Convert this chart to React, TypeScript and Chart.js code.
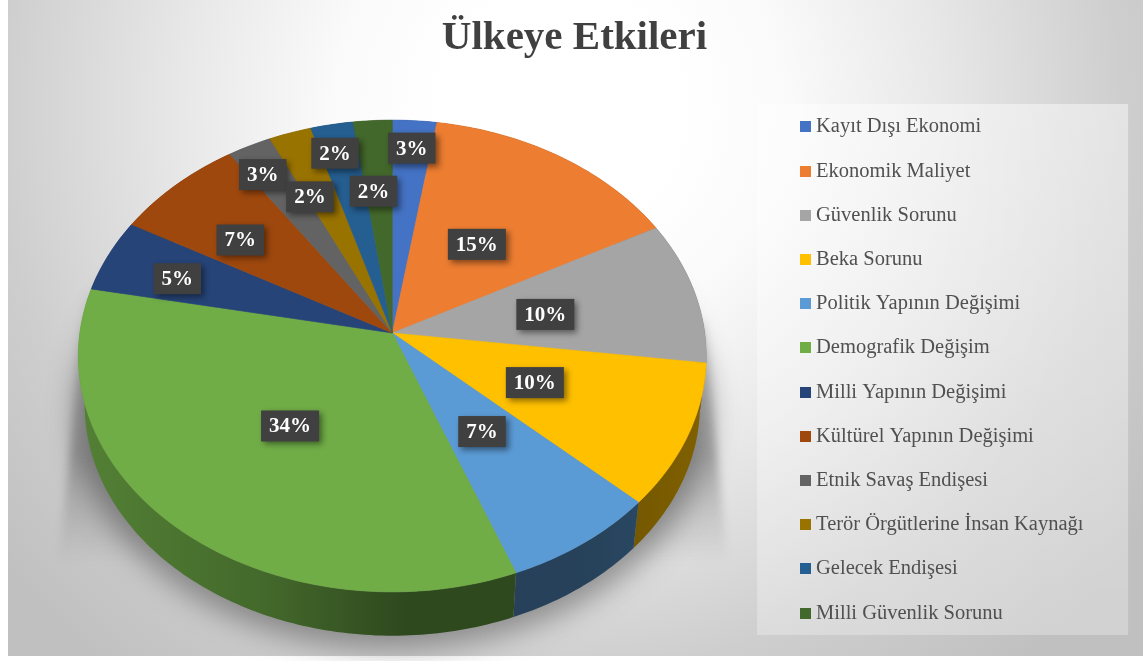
import React, { useEffect, useRef } from "react";
import { Chart, registerables } from "chart.js";

Chart.register(...registerables);

const titleText = "Ülkeye Etkileri";
const categories = [
  "Kayıt Dışı Ekonomi",
  "Ekonomik Maliyet",
  "Güvenlik Sorunu",
  "Beka Sorunu",
  "Politik Yapının Değişimi",
  "Demografik Değişim",
  "Milli Yapının Değişimi",
  "Kültürel Yapının Değişimi",
  "Etnik Savaş Endişesi",
  "Terör Örgütlerine İnsan Kaynağı",
  "Gelecek Endişesi",
  "Milli Güvenlik Sorunu",
];
const values = [2.5, 14.7, 9.8, 9.8, 7.3, 33.9, 5, 7.4, 2.5, 2.4, 2.4, 2.2];
const colors = [
  "#4472C4", "#ED7D31", "#A5A5A5", "#FFC000", "#5B9BD5", "#70AD47",
  "#264478", "#9E480E", "#636363", "#997300", "#255E91", "#43682B",
];
const labelRadii = [0.86, 0.484, 0.5, 0.493, 0.49, 0.496, 0.743, 0.654, 0.851, 0.678, 0.855, 0.648];
const labelAngleNudges = [0, 0, 0.02, 0, 0, -0.01, -0.025, -0.055, -0.03, -0.06, -0.02, -0.03];

const SERIF = '"Liberation Serif", serif';
const K = 0.0975;
const SCALE_X = 1.11;
const SCALE_Y = 0.83;
const DEPTH_SCALE = 0.98;
const DEPTH_Y = 49;
const APEX_SHIFT = -41.5;
const TITLE_SHIFT = 26;

function project(arc: any, r: number, angle: number) {
  const u = r * Math.cos(angle);
  const v = r * Math.sin(angle);
  const w = 1 - K * v;
  return {
    x: (SCALE_X * arc.outerRadius * u) / w,
    y: (SCALE_Y * arc.outerRadius * v) / w,
  };
}

function shade(hex: string, f: number) {
  const n = parseInt(hex.slice(1), 16);
  return `rgb(${((n >> 16) & 255) * f},${((n >> 8) & 255) * f},${(n & 255) * f})`;
}

function markerCanvas(color: string) {
  const c = document.createElement("canvas");
  c.width = 11;
  c.height = 11;
  const x = c.getContext("2d")!;
  x.fillStyle = color;
  x.fillRect(0, 0, 11, 11);
  return c;
}

const backdropPlugin = {
  id: "backdrop",
  afterLayout(chart: any) {
    if (chart.titleBlock) {
      chart.titleBlock.left += TITLE_SHIFT;
      chart.titleBlock.right += TITLE_SHIFT;
    }
  },
  beforeDraw(chart: any) {
    const { ctx, width, height } = chart;
    ctx.save();
    ctx.fillStyle = "#ffffff";
    ctx.fillRect(0, 0, width, height);
    const g = ctx.createRadialGradient(560, 110, 120, 560, 110, 720);
    g.addColorStop(0, "#ffffff");
    g.addColorStop(0.18, "#fafafa");
    g.addColorStop(0.43, "#e8e8e8");
    g.addColorStop(0.74, "#cecece");
    g.addColorStop(1, "#c0c0c0");
    ctx.fillStyle = g;
    ctx.fillRect(8, 0, width - 8, height - 5);
    const lg = chart.legend;
    const box = ctx.createLinearGradient(0, lg.top + 11, 0, lg.top + 542);
    box.addColorStop(0, "rgba(255,255,255,0.45)");
    box.addColorStop(1, "rgba(255,255,255,0.28)");
    ctx.fillStyle = box;
    ctx.fillRect(lg.left - 24, lg.top + 11, 371, 531);
    ctx.restore();
  },
};

const perspectivePie = {
  id: "perspectivePie",
  beforeDatasetsDraw(chart: any) {
    const { ctx } = chart;
    const meta = chart.getDatasetMeta(0);
    const first = meta.data[0];
    const cx = first.x;
    const cy = first.y + APEX_SHIFT;
    const R = first.outerRadius;

    const arcPts = (arc: any) => {
      const n = Math.max(8, Math.ceil((arc.endAngle - arc.startAngle) * 60));
      const pts = [];
      for (let i = 0; i <= n; i++) {
        const t = arc.startAngle + ((arc.endAngle - arc.startAngle) * i) / n;
        pts.push(project(arc, 1, t));
      }
      return pts;
    };

    ctx.save();
    // flaring shadow beside the pie
    const fan = ctx.createLinearGradient(0, cy - 40, 0, cy + 230);
    fan.addColorStop(0, "rgba(90,90,90,0.05)");
    fan.addColorStop(0.25, "rgba(90,90,90,0.25)");
    fan.addColorStop(0.6, "rgba(90,90,90,0.42)");
    fan.addColorStop(1, "rgba(90,90,90,0)");
    ctx.filter = "blur(4px)";
    ctx.fillStyle = fan;
    ctx.beginPath();
    ctx.moveTo(cx - R * 1.09, cy - 40);
    ctx.lineTo(cx - R * 1.185, cy + 230);
    ctx.lineTo(cx + R * 1.19, cy + 230);
    ctx.lineTo(cx + R * 1.11, cy - 10);
    ctx.closePath();
    ctx.fill();

    // soft ground shadow under the pie
    ctx.filter = "blur(14px)";
    ctx.fillStyle = "rgba(70,70,70,0.5)";
    ctx.beginPath();
    for (let i = 0; i <= 120; i++) {
      const p = project(first, 1, (i / 120) * Math.PI * 2);
      const x = cx + p.x * 1.01;
      const y = cy + DEPTH_Y + 8 + p.y;
      if (i === 0) ctx.moveTo(x, y);
      else ctx.lineTo(x, y);
    }
    ctx.closePath();
    ctx.fill();
    ctx.filter = "none";

    // side walls
    meta.data.forEach((arc: any, i: number) => {
      const color = colors[i];
      const g = ctx.createLinearGradient(cx - R * 1.1, 0, cx + R * 1.1, 0);
      g.addColorStop(0, shade(color, 0.74));
      g.addColorStop(0.3, shade(color, 0.6));
      g.addColorStop(0.52, shade(color, 0.42));
      g.addColorStop(0.8, shade(color, 0.42));
      g.addColorStop(1, shade(color, 0.5));
      const pts = arcPts(arc);
      ctx.fillStyle = g;
      ctx.beginPath();
      pts.forEach((p: any, j: number) => {
        const x = cx + p.x;
        const y = cy + p.y;
        if (j === 0) ctx.moveTo(x, y);
        else ctx.lineTo(x, y);
      });
      pts.slice().reverse().forEach((p: any) => {
        ctx.lineTo(cx + p.x * DEPTH_SCALE, cy + DEPTH_Y + p.y * DEPTH_SCALE);
      });
      ctx.closePath();
      ctx.fill();
    });

    // top faces
    meta.data.forEach((arc: any, i: number) => {
      ctx.fillStyle = colors[i];
      ctx.strokeStyle = colors[i];
      ctx.lineWidth = 0.6;
      ctx.beginPath();
      ctx.moveTo(cx, cy);
      arcPts(arc).forEach((p: any) => ctx.lineTo(cx + p.x, cy + p.y));
      ctx.closePath();
      ctx.fill();
      ctx.stroke();
    });
    ctx.restore();
    return false;
  },
  afterDraw(chart: any) {
    const { ctx } = chart;
    const meta = chart.getDatasetMeta(0);
    const first = meta.data[0];
    const cx = first.x;
    const cy = first.y + APEX_SHIFT;
    const total = values.reduce((a, b) => a + b, 0);
    ctx.save();
    ctx.font = `bold 21px ${SERIF}`;
    ctx.textAlign = "center";
    ctx.textBaseline = "middle";
    meta.data.forEach((arc: any, i: number) => {
      const mid = (arc.startAngle + arc.endAngle) / 2 + labelAngleNudges[i];
      const p = project(arc, labelRadii[i], mid);
      const text = `${Math.round((values[i] / total) * 100)}%`;
      const w = ctx.measureText(text).width + 16;
      const h = 31;
      const x = cx + p.x;
      const y = cy + p.y;
      ctx.save();
      ctx.shadowColor = "rgba(0,0,0,0.45)";
      ctx.shadowBlur = 6;
      ctx.shadowOffsetX = 3;
      ctx.shadowOffsetY = 3;
      ctx.fillStyle = "#404040";
      ctx.fillRect(x - w / 2, y - h / 2, w, h);
      ctx.restore();
      ctx.fillStyle = "#ffffff";
      ctx.fillText(text, x, y + 1);
    });
    ctx.restore();
  },
};

export default function App() {
  const ref = useRef<HTMLCanvasElement>(null);
  useEffect(() => {
    const markers = colors.map(markerCanvas);
    const chart = new Chart(ref.current!, {
      type: "pie",
      data: {
        labels: categories,
        datasets: [{ data: values, backgroundColor: colors, borderWidth: 0 }],
      },
      options: {
        responsive: false,
        animation: false,
        layout: { padding: { left: 3.5, right: 49.5, top: 0, bottom: 5 } },
        plugins: {
          tooltip: { enabled: false },
          title: {
            display: true,
            text: titleText,
            color: "#404040",
            font: { family: SERIF, size: 41, weight: "bold", lineHeight: 1.17 },
            padding: { top: 14, bottom: 31 },
          },
          legend: {
            position: "right",
            align: "start",
            fullSize: false,
            labels: {
              font: { family: SERIF, size: 20.5 },
              color: "#505050",
              boxWidth: 1,
              boxHeight: 11,
              padding: 23.7,
              usePointStyle: true,
              generateLabels: () =>
                categories.map((text, i) => ({
                  text,
                  index: i,
                  fillStyle: colors[i],
                  strokeStyle: colors[i],
                  fontColor: "#505050",
                  lineWidth: 0,
                  pointStyle: markers[i],
                  hidden: false,
                })),
            },
          },
        },
      } as any,
      plugins: [backdropPlugin, perspectivePie],
    });
    return () => chart.destroy();
  }, []);
  return (
    <canvas
      ref={ref}
      width={1143}
      height={661}
      style={{ position: "absolute", left: 0, top: 0, display: "block" }}
    />
  );
}
